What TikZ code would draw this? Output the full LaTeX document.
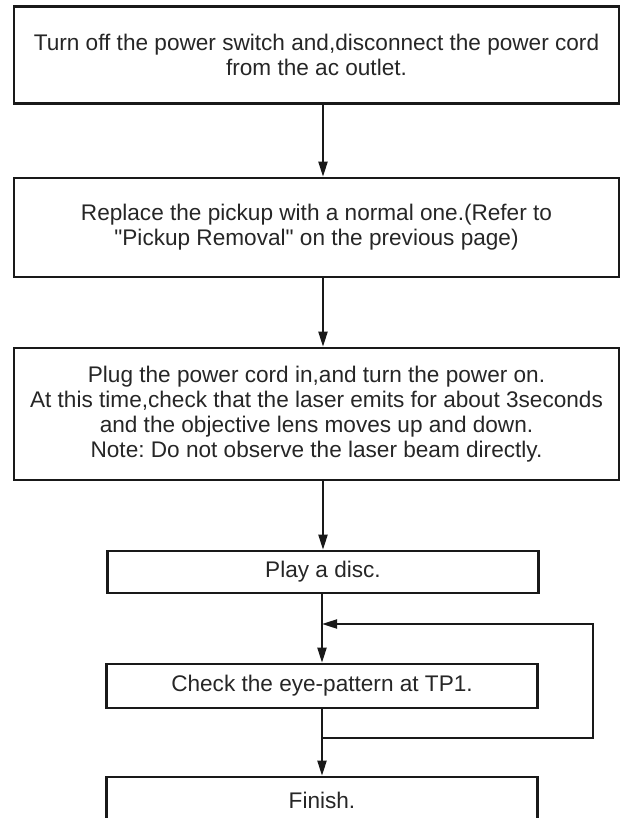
\documentclass[tikz,border=0pt]{standalone}
\usepackage{fontspec}
\newfontfamily\boxfont{Liberation Sans}
\usetikzlibrary{arrows.meta}
\frenchspacing
\begin{document}
\begin{tikzpicture}[
    x=1pt, y=1pt,
    >={Triangle[length=15pt,width=9pt]},
    font=\boxfont\fontsize{22.6}{25}\selectfont,
    widebox/.style={draw=black!90, line width=2.6pt, text=black!85,
                    minimum width=605pt, align=center, inner sep=0pt},
    narrowbox/.style={draw=black!90, line width=2.6pt, text=black!85,
                      minimum width=431pt, align=center, inner sep=0pt},
    flowedge/.style={->, black!90, line width=2pt},
]
\useasboundingbox (0,0) rectangle (631,-818);

% Top: preparation steps
\node[widebox, minimum height=97pt] (off) at (316.5,-55) {%
    Turn off the power switch and,disconnect the power cord\\
    from the ac outlet.};
\node[widebox, minimum height=99pt] (swap) at (316.5,-227.5) {%
    Replace the pickup with a normal one.(Refer to\\
    "Pickup Removal" on the previous page)};
\node[widebox, minimum height=132pt] (power) at (316.5,-414) {%
    Plug the power cord in,and turn the power on.\\
    At this time,check that the laser emits for about 3seconds\\
    and the objective lens moves up and down.\\
    Note: Do not observe the laser beam directly.};

% Bottom: check loop
\node[narrowbox, minimum height=42pt] (play) at (323,-572) {Play a disc.};
\node[narrowbox, minimum height=44pt] (eye) at (322,-686) {Check the eye-pattern at TP1.};
\node[narrowbox, minimum height=46pt] (finish) at (322,-800) {Finish.};

% Loop points
\coordinate (back) at (322,-624);
\coordinate (out) at (322,-738);
\coordinate (side) at (593,-681);

% Main flow
\draw[flowedge] (off.south -| play.north) -- (swap.north -| play.north);
\draw[flowedge] (swap.south -| play.north) -- (power.north -| play.north);
\draw[flowedge] (power.south -| play.north) -- (play.north);
\draw[flowedge] (play.south -| eye.north) -- (eye.north);
\draw[flowedge] (eye.south) -- (finish.north);

% Repeat path
\draw[flowedge] (out) -- (out -| side) -- (back -| side) -- (back);
\end{tikzpicture}
\end{document}
